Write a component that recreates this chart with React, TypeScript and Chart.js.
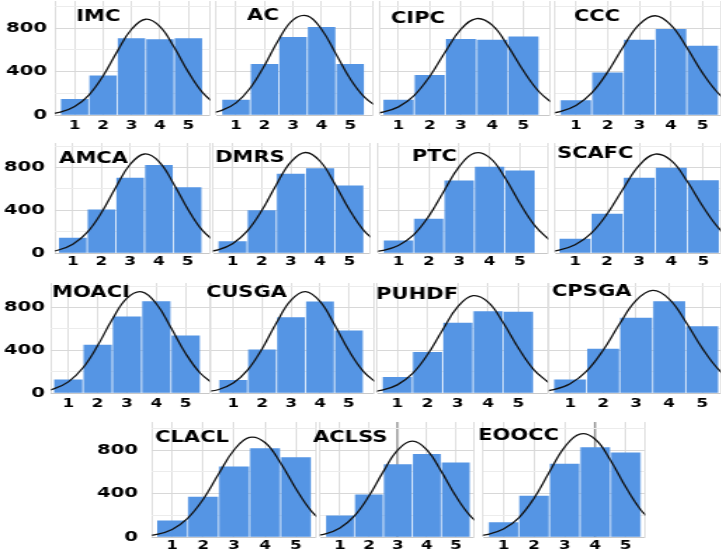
import React, { useEffect, useRef } from 'react';
import { Chart, registerables } from 'chart.js';

Chart.register(...registerables);

// ---------- data ----------
const categories = [1, 2, 3, 4, 5];
const curveX = [0, 0.5, 1, 1.5, 2, 2.5, 3, 3.5, 4, 4.5, 5, 5.5, 6];
const yTickValues = [0, 200, 400, 600, 800, 1000];
const yLabelValues = [0, 400, 800];

const imcBars = [145, 360, 705, 695, 705];
const imcCurve = [8, 26, 78, 184, 360, 586, 790, 882, 814, 623, 395, 206, 89];
const acBars = [138, 466, 715, 807, 466];
const acCurve = [13, 42, 112, 249, 457, 696, 876, 913, 788, 563, 333, 164, 66];
const cipcBars = [138, 365, 696, 690, 720];
const cipcCurve = [7, 26, 75, 179, 355, 582, 790, 888, 827, 637, 407, 214, 93];
const cccBars = [132, 389, 690, 788, 635];
const cccCurve = [9, 31, 88, 204, 395, 631, 834, 914, 828, 622, 386, 198, 84];
const amcaBars = [140, 405, 701, 820, 613];
const amcaCurve = [8, 28, 82, 193, 379, 616, 831, 927, 856, 654, 415, 216, 94];
const dmrsBars = [108, 398, 739, 791, 629];
const dmrsCurve = [9, 30, 87, 204, 397, 640, 853, 941, 859, 649, 407, 210, 90];
const ptcBars = [115, 318, 676, 804, 769];
const ptcCurve = [6, 24, 70, 169, 345, 581, 809, 935, 893, 707, 463, 251, 112];
const scafcBars = [131, 365, 701, 795, 679];
const scafcCurve = [8, 26, 77, 184, 366, 602, 821, 926, 865, 669, 429, 226, 98];
const moaciBars = [124, 449, 713, 857, 536];
const moaciCurve = [11, 38, 104, 236, 444, 690, 888, 948, 836, 611, 370, 185, 77];
const cusgaBars = [118, 405, 707, 853, 583];
const cusgaCurve = [10, 33, 93, 216, 415, 660, 870, 950, 858, 641, 397, 203, 86];
const puhdfBars = [146, 380, 654, 763, 757];
const puhdfCurve = [7, 26, 76, 181, 360, 593, 808, 911, 851, 658, 422, 222, 97];
const cpsgaBars = [124, 411, 701, 857, 623];
const cpsgaCurve = [9, 31, 87, 205, 401, 648, 867, 960, 879, 667, 420, 218, 94];
const claclBars = [148, 369, 646, 816, 733];
const claclCurve = [7, 24, 70, 172, 346, 580, 802, 918, 871, 684, 445, 239, 106];
const aclssBars = [194, 388, 668, 763, 683];
const aclssCurve = [9, 29, 83, 194, 377, 605, 804, 883, 804, 605, 377, 194, 83];
const eooccBars = [133, 378, 671, 825, 775];
const eooccCurve = [7, 25, 73, 177, 358, 599, 829, 949, 901, 707, 460, 247, 110];

const series = [
  { title: 'IMC', bars: imcBars, curve: imcCurve },
  { title: 'AC', bars: acBars, curve: acCurve },
  { title: 'CIPC', bars: cipcBars, curve: cipcCurve },
  { title: 'CCC', bars: cccBars, curve: cccCurve },
  { title: 'AMCA', bars: amcaBars, curve: amcaCurve },
  { title: 'DMRS', bars: dmrsBars, curve: dmrsCurve },
  { title: 'PTC', bars: ptcBars, curve: ptcCurve },
  { title: 'SCAFC', bars: scafcBars, curve: scafcCurve },
  { title: 'MOACI', bars: moaciBars, curve: moaciCurve },
  { title: 'CUSGA', bars: cusgaBars, curve: cusgaCurve },
  { title: 'PUHDF', bars: puhdfBars, curve: puhdfCurve },
  { title: 'CPSGA', bars: cpsgaBars, curve: cpsgaCurve },
  { title: 'CLACL', bars: claclBars, curve: claclCurve },
  { title: 'ACLSS', bars: aclssBars, curve: aclssCurve },
  { title: 'EOOCC', bars: eooccBars, curve: eooccCurve },
];

// ---------- layout (reference pixel space) ----------
type Lay = {
  L: number; R: number; T: number; B: number;
  xmin: number; xmax: number; ymax: number;
  tx: number; ty: number;
  yLabels: boolean; canvasLeft?: number; yGap?: number;
  xPad: number; darkX?: number;
};

const layouts: Lay[] = [
  { L: 55, R: 210, T: 1, B: 115, xmin: 0.31, xmax: 5.76, ymax: 1050, tx: 76, ty: 17.5, yLabels: true, canvasLeft: 0, yGap: 8, xPad: 4 },
  { L: 216, R: 373, T: 1, B: 115, xmin: 0.30, xmax: 5.80, ymax: 1050, tx: 247, ty: 16, yLabels: false, xPad: 4 },
  { L: 380, R: 550, T: 1, B: 115, xmin: 0.41, xmax: 5.85, ymax: 1050, tx: 391, ty: 19, yLabels: false, xPad: 4 },
  { L: 555, R: 721, T: 1, B: 115, xmin: 0.34, xmax: 5.58, ymax: 1050, tx: 574, ty: 17.5, yLabels: false, xPad: 4 },

  { L: 55, R: 210, T: 143, B: 253, xmin: 0.38, xmax: 5.78, ymax: 1030, tx: 59, ty: 159, yLabels: true, canvasLeft: 0, yGap: 10, xPad: 2 },
  { L: 213, R: 370, T: 143, B: 253, xmin: 0.33, xmax: 5.71, ymax: 1030, tx: 215, ty: 158, yLabels: false, xPad: 2 },
  { L: 378, R: 548, T: 143, B: 253, xmin: 0.33, xmax: 5.92, ymax: 1030, tx: 412, ty: 157, yLabels: false, xPad: 2 },
  { L: 555, R: 721, T: 143, B: 253, xmin: 0.375, xmax: 5.55, ymax: 1030, tx: 557, ty: 154.5, yLabels: false, xPad: 2 },

  { L: 51, R: 210, T: 283, B: 393, xmin: 0.41, xmax: 5.83, ymax: 1030, tx: 52, ty: 293, yLabels: true, canvasLeft: 0, yGap: 6, xPad: 4 },
  { L: 211, R: 374, T: 283, B: 393, xmin: 0.23, xmax: 5.87, ymax: 1030, tx: 206, ty: 293, yLabels: false, xPad: 4 },
  { L: 377, R: 548, T: 283, B: 393, xmin: 0.33, xmax: 5.98, ymax: 1030, tx: 376, ty: 295.5, yLabels: false, xPad: 4 },
  { L: 549, R: 721, T: 283, B: 393, xmin: 0.36, xmax: 5.57, ymax: 1030, tx: 552, ty: 292, yLabels: false, xPad: 4 },

  { L: 152, R: 316, T: 422, B: 537, xmin: 0.35, xmax: 5.65, ymax: 1060, tx: 155, ty: 438, yLabels: true, canvasLeft: 90, yGap: 14, xPad: 2 },
  { L: 320, R: 474, T: 422, B: 537, xmin: 0.31, xmax: 5.63, ymax: 1060, tx: 313, ty: 438, yLabels: false, xPad: 2, darkX: 3 },
  { L: 483, R: 645, T: 422, B: 537, xmin: 0.33, xmax: 5.63, ymax: 1060, tx: 478, ty: 436, yLabels: false, xPad: 2, darkX: 4 },
];

const SX = 1.4;
const FONT = "'DejaVu Sans', sans-serif";
const BAR_COLOR = '#5595E4';

const panelTitle = {
  id: 'panelTitle',
  afterDatasetsDraw(chart: any, _args: any, opts: any) {
    const ctx = chart.ctx;
    ctx.save();
    ctx.font = `bold 15px ${FONT}`;
    ctx.fillStyle = '#000';
    ctx.textAlign = 'left';
    ctx.textBaseline = 'middle';
    ctx.fillText(opts.text, opts.x, opts.y);
    ctx.restore();
  },
};

function Panel({ title, bars, curve, lay }: { title: string; bars: number[]; curve: number[]; lay: Lay }) {
  const ref = useRef<HTMLCanvasElement>(null);
  const left = lay.yLabels ? (lay.canvasLeft as number) : lay.L - 8;
  const refW = lay.R + 2 - left;
  const cw = Math.round(refW / SX);
  const s = refW / cw;
  const xh = 22;
  const ch = lay.B - lay.T + xh;

  useEffect(() => {
    const canvas = ref.current as HTMLCanvasElement;
    const yw = (lay.L - left) / s;
    const padR = 2 / s;
    const step = (lay.R - lay.L) / (lay.xmax - lay.xmin);
    const barW = (step - 2) / s;

    const chart = new Chart(canvas, {
      type: 'bar',
      data: {
        datasets: [
          {
            type: 'line',
            label: 'curve',
            data: curveX.map((x, i) => ({ x, y: curve[i] })),
            borderColor: '#111',
            borderWidth: 1.3,
            pointRadius: 0,
            tension: 0.4,
            fill: false,
            order: 0,
          } as any,
          {
            type: 'bar',
            label: 'bars',
            data: categories.map((c, i) => ({ x: c, y: bars[i] })),
            backgroundColor: BAR_COLOR,
            barThickness: barW,
            borderWidth: 0,
            order: 1,
          } as any,
        ],
      },
      options: {
        responsive: false,
        animation: false,
        events: [],
        layout: { padding: { left: 0, right: padR, top: 0, bottom: 0 }, autoPadding: false },
        plugins: {
          legend: { display: false },
          tooltip: { enabled: false },
          panelTitle: { text: title, x: (lay.tx - left) / s, y: lay.ty - lay.T },
        } as any,
        scales: {
          x: {
            type: 'linear',
            offset: false,
            min: lay.xmin,
            max: lay.xmax,
            afterBuildTicks: (sc: any) => {
              sc.ticks = [lay.xmin, ...categories, lay.xmax].map((v) => ({ value: v }));
            },
            afterFit: (sc: any) => {
              sc.height = xh;
              sc.paddingLeft = 0;
              sc.paddingRight = 0;
            },
            ticks: {
              autoSkip: false,
              maxRotation: 0,
              minRotation: 0,
              padding: lay.xPad,
              color: '#000',
              font: { family: FONT, size: 12, weight: 'bold' },
              callback: (v: any) => (Number.isInteger(v) ? String(v) : ''),
            },
            grid: {
              offset: false,
              drawTicks: false,
              color: (c: any) => {
                const v = c.tick && c.tick.value;
                if (lay.darkX !== undefined && v === lay.darkX) return '#a0a0a0';
                return '#dedede';
              },
              lineWidth: (c: any) => {
                const v = c.tick && c.tick.value;
                return lay.darkX !== undefined && v === lay.darkX ? 1.6 : 1;
              },
            },
            border: { display: false },
          },
          y: {
            type: 'linear',
            min: 0,
            max: lay.ymax,
            afterBuildTicks: (sc: any) => {
              sc.ticks = yTickValues.map((v) => ({ value: v }));
            },
            afterFit: (sc: any) => {
              sc.width = yw;
              sc.paddingTop = 0;
              sc.paddingBottom = 0;
            },
            ticks: {
              display: lay.yLabels,
              padding: (lay.yGap || 0) / s,
              color: '#000',
              font: { family: FONT, size: 14, weight: 'bold' },
              callback: (v: any) => (yLabelValues.includes(v) ? String(v) : ''),
            },
            grid: {
              drawTicks: false,
              color: (c: any) => {
                const v = c.tick && c.tick.value;
                if (v === 0) return '#c8c8c8';
                return v % 400 === 0 ? '#d8d8d8' : '#ececec';
              },
            },
            border: { display: false },
          },
        },
      } as any,
      plugins: [panelTitle as any],
    });
    return () => chart.destroy();
  }, []);

  return (
    <canvas
      ref={ref}
      width={cw}
      height={ch}
      style={{
        position: 'absolute',
        left,
        top: lay.T,
        width: cw,
        height: ch,
        transform: `scaleX(${s})`,
        transformOrigin: '0 0',
      }}
    />
  );
}

export default function App() {
  return (
    <div
      style={{
        position: 'fixed',
        left: 0,
        top: 0,
        width: 721,
        height: 554,
        background: '#fff',
        overflow: 'hidden',
      }}
    >
      {series.map((sr, i) => (
        <Panel key={sr.title} title={sr.title} bars={sr.bars} curve={sr.curve} lay={layouts[i]} />
      ))}
    </div>
  );
}
